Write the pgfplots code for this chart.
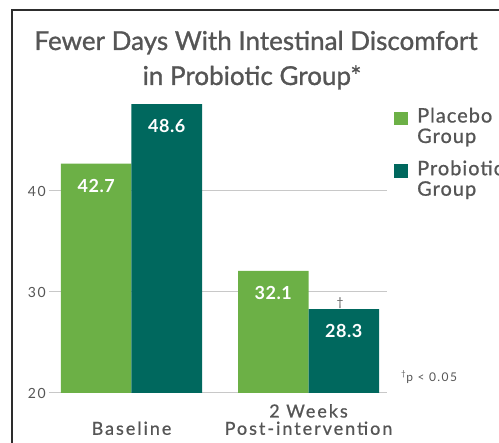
\documentclass[border=0pt]{standalone}
\usepackage{fontspec}
\setmainfont{Lato}
\newfontfamily\titlefont{Lato}[FakeBold=1.0]
\newfontfamily\labfont{Lato}[FakeBold=0.8, LetterSpace=11]
\newfontfamily\legfont{Lato}[FakeBold=0.8, LetterSpace=5]
\newfontfamily\tickfont{Lato}[LetterSpace=12]
\newfontfamily\valfont{Lato}[LetterSpace=3]
\usepackage{pgfplots}
\pgfplotsset{compat=1.18}
\definecolor{pgreen}{RGB}{108,176,70}
\definecolor{pteal}{RGB}{0,104,94}
\definecolor{txt}{RGB}{85,85,85}
\definecolor{gridc}{RGB}{200,200,200}
\definecolor{framec}{RGB}{45,45,45}
\begin{document}
\begin{tikzpicture}[x=1pt,y=1pt]
\begin{axis}[
  at={(49pt,50pt)}, anchor=south west,
  scale only axis, width=338pt, height=303pt,
  xmin=-0.4661, xmax=1.4435, ymin=20, ymax=50,
  ybar=0pt, bar width=70.5pt,
  axis line style={draw=none},
  major tick length=0pt,
  ymajorgrids, grid style={gridc, line width=1pt},
  ytick={20,30,40}, xtick={0,1},
  xticklabels={{Baseline},{2 Weeks\\Post-intervention}},
  xticklabel style={align=center, anchor=south, text depth=0pt, inner sep=0pt, yshift=-42pt,
     font=\labfont\fontsize{18}{17.3}\selectfont, text=txt},
  yticklabel style={anchor=east, inner sep=0pt, xshift=-3pt, font=\tickfont\fontsize{14}{14}\selectfont, text=txt},
  /pgf/number format/assume math mode=true,
  nodes near coords={\pgfmathprintnumber[fixed,precision=1,fixed zerofill]{\pgfplotspointmeta}},
  every node near coord/.append style={anchor=center, yshift=-22pt, text=white,
     font=\valfont\bfseries\fontsize{18}{18}\selectfont, /pgf/number format/assume math mode=true},
  legend style={draw=none, fill=none, at={(1.0207,0.942)}, anchor=north west, inner sep=0pt,
     row sep=16pt, column sep=9.5pt, font=\legfont\fontsize{20}{20.5}\selectfont, text=txt,
     nodes={align=left, inner sep=0pt, outer sep=0pt}},
  legend cell align=left,
]
\addplot[fill=pgreen, draw=none, legend image code/.code={\fill[pgreen] (0pt,1.2pt) rectangle (13.5pt,14.4pt);}]
  coordinates {(0,42.7) (1,32.1)};
\addlegendentry{Placebo\\Group}
\addplot[fill=pteal, draw=none, legend image code/.code={\fill[pteal] (0pt,1.2pt) rectangle (13.5pt,14.4pt);}]
  coordinates {(0,48.6) (1,28.3)};
\addlegendentry{Probiotic\\Group}
\node[anchor=base, text=txt, font=\fontsize{12}{12}\selectfont, xshift=31.5pt, yshift=3pt] at (axis cs:1,28.3) {†};
\end{axis}
\node[anchor=base, text=txt, font=\titlefont\fontsize{26}{26}\selectfont] at (256,393) {Fewer Days With Intestinal Discomfort};
\node[anchor=base, text=txt, font=\titlefont\fontsize{26}{26}\selectfont] at (252,358) {in Probiotic Group*};
\node[anchor=west, text=txt, font=\tickfont\fontsize{12}{12}\selectfont, inner sep=0pt] at (401,66) {\textsuperscript{†}p < 0.05};
\draw[line width=1.8pt, framec] (11.8,-5) -- (11.8,433) -- (510,433);
\pgfresetboundingbox
\path[use as bounding box] (0,0) rectangle (499,443);
\end{tikzpicture}
\end{document}
